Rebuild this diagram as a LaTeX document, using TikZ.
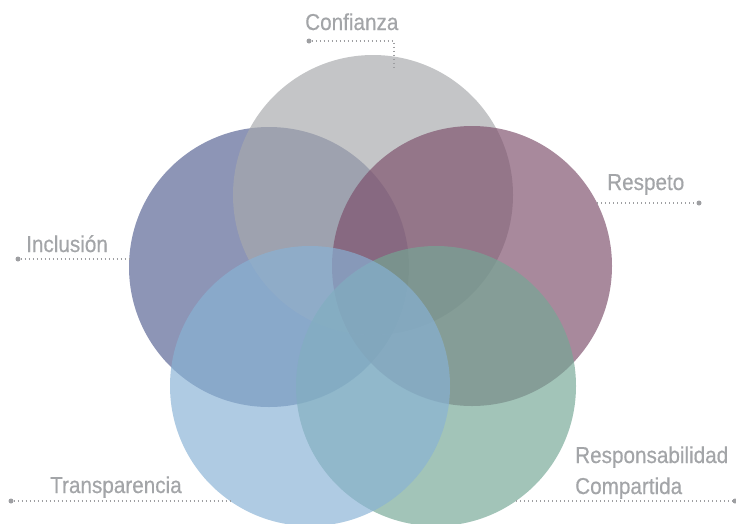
\documentclass[tikz,border=0pt]{standalone}
\usepackage{fontspec}
\setmainfont{Liberation Sans}[FakeStretch=0.9, FakeBold=0.5]
\usetikzlibrary{calc}

% base tints, laid down at two-thirds opacity
\definecolor{cGray}{RGB}{167,169,172}
\definecolor{cIncl}{RGB}{85,97,146}
\definecolor{cResp}{RGB}{125,79,107}
\definecolor{cComp}{RGB}{116,167,149}
\definecolor{cTran}{RGB}{136,178,213}
\definecolor{labelgray}{RGB}{163,165,168}
\definecolor{leadgray}{RGB}{158,159,162}

\tikzset{
  ring/.style={circle, draw=none, minimum size=280pt, inner sep=0pt, fill opacity=0.67},
  label/.style={anchor=base west, inner sep=0pt, text=labelgray,
                font=\fontsize{23}{27}\selectfont, align=left},
  leader/.style={leadgray, line width=1.4pt, dash pattern=on 1.3pt off 2.7pt},
  enddot/.style={circle, fill=leadgray, minimum size=5pt, inner sep=0pt}
}

\begin{document}
\begin{tikzpicture}[x=1pt, y=-1pt]
  \useasboundingbox (0,0) rectangle (736,523);
  \begin{scope}
    \clip (0,0) rectangle (736,523);

    % the five overlapping circles, back to front
    \node[ring, fill=cIncl] (incl) at (269,267) {};
    \node[ring, fill=cGray] (conf) at (373,195) {};
    \node[ring, fill=cResp] (resp) at (472,266) {};
    \node[ring, fill=cComp] (comp) at (436,386) {};
    \node[ring, fill=cTran] (tran) at (310,386) {};

    % labels
    \node[label] (tConf) at (305,30) {Confianza};
    \node[label] (tResp) at (607,190) {Respeto};
    \node[label] (tIncl) at (26,252) {Inclusión};
    \node[label] (tTran) at (50,493) {Transparencia};
    \node[label] (tComp1) at (575,463) {Responsabilidad};
    \node[label] (tComp2) at (575,494) {Compartida};

    % leader lines with their end dots
    \coordinate (confBend) at (394,41);
    \coordinate (confEnd) at (394,67);
    \node[enddot] (dConf) at (309,41) {};
    \draw[leader] (dConf) -- (confBend) -- (confEnd);

    \coordinate (respStart) at (597,203);
    \node[enddot] (dResp) at (699,203) {};
    \draw[leader] (respStart) -- (dResp);

    \coordinate (inclEnd) at (130,259);
    \node[enddot] (dIncl) at (18,259) {};
    \draw[leader] (dIncl) -- (inclEnd);

    \coordinate (tranEnd) at (230,501);
    \node[enddot] (dTran) at (11,501) {};
    \draw[leader] (dTran) -- (tranEnd);

    \coordinate (compStart) at (516,501);
    \node[enddot] (dComp) at (735,501) {};
    \draw[leader] (compStart) -- (dComp);
  \end{scope}
\end{tikzpicture}
\end{document}
